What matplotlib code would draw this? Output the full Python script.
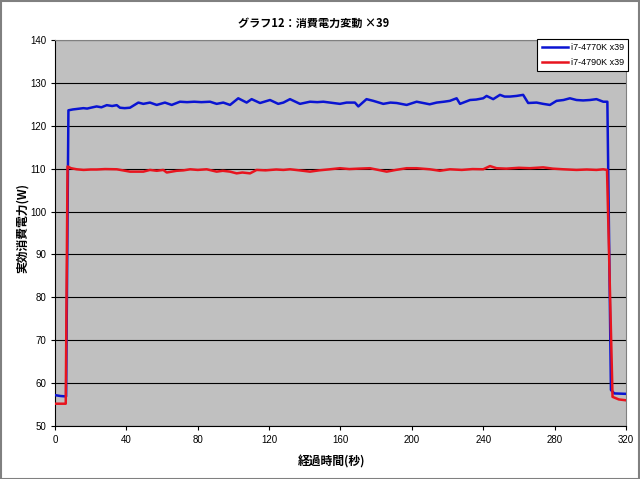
import matplotlib
matplotlib.use("Agg")
import matplotlib.pyplot as plt
from matplotlib.patches import Rectangle

# elapsed time (s) / power (W)
blue_t = [0, 3, 6.2, 7.5, 10, 12, 15.9, 18, 20, 23.3, 26, 29, 32, 34.6, 36.4, 39, 42,
          46.7, 49.5, 53.2, 57, 61.6, 65.4, 70, 74, 78, 82, 86.9, 90.6, 94.3, 98.1,
          102.7, 107.4, 110.2, 114.9, 120.5, 125.1, 128, 131.7, 137.3, 142.9, 147,
          150.4, 154.1, 159.7, 163.4, 168.1, 170, 174.6, 178.4, 184, 188, 191.5,
          197.1, 202.7, 206.4, 210, 213.9, 218, 221.3, 225.1, 227, 232.6, 236, 240,
          241.9, 245.6, 249.4, 252, 255, 258.7, 262.4, 265.2, 269.9, 273.6, 277.4,
          281.1, 285, 288.6, 292.3, 296, 299.8, 303.5, 307.3, 309.6, 311.6, 313.5, 320]
blue_w = [57.2, 57.0, 56.9, 123.6, 123.8, 123.9, 124.1, 124.0, 124.2, 124.5, 124.3, 124.8,
          124.6, 124.8, 124.2, 124.1, 124.2, 125.4, 125.1, 125.4, 124.85, 125.4, 124.85,
          125.6, 125.5, 125.6, 125.5, 125.6, 125.1, 125.4, 124.85, 126.4, 125.4, 126.2,
          125.3, 126.0, 125.1, 125.4, 126.2, 125.1, 125.6, 125.5, 125.6, 125.4, 125.1,
          125.4, 125.4, 124.5, 126.2, 125.8, 125.1, 125.4, 125.3, 124.85, 125.6, 125.3,
          125.0, 125.4, 125.6, 125.8, 126.4, 125.1, 126.0, 126.1, 126.4, 126.95, 126.2,
          127.2, 126.8, 126.8, 126.95, 127.2, 125.3, 125.4, 125.1, 124.85, 125.8, 126.0,
          126.4, 126.0, 125.9, 126.0, 126.2, 125.6, 125.6, 58.4, 57.6, 57.5]

red_t = [0, 6, 7, 9, 12.1, 16, 20, 23.4, 28, 34.6, 38, 42, 49.5, 53.2, 57, 60.7, 62.6,
         68.2, 72, 75.7, 80, 85, 90.6, 94, 98.1, 101.8, 105, 109.3, 113, 118, 124, 128,
         131.7, 137, 142.9, 148, 154.1, 159.7, 165, 170, 176.5, 185.9, 191, 197.1,
         202.7, 210.1, 215.7, 221.3, 228, 234, 240, 243.8, 247.5, 253, 260, 266.2,
         273.6, 279, 284.9, 292.3, 298, 303.5, 307.3, 309.4, 312.5, 316, 320]
red_w = [55.2, 55.2, 110.5, 110.1, 109.85, 109.7, 109.8, 109.8, 109.9, 109.85, 109.6,
         109.3, 109.3, 109.7, 109.5, 109.7, 109.1, 109.5, 109.6, 109.85, 109.7, 109.85,
         109.3, 109.5, 109.3, 108.9, 109.1, 108.9, 109.7, 109.6, 109.8, 109.7, 109.85,
         109.6, 109.3, 109.6, 109.85, 110.1, 109.9, 110.0, 110.1, 109.3, 109.7, 110.1,
         110.1, 109.85, 109.5, 109.85, 109.7, 109.9, 109.85, 110.6, 110.1, 110.0, 110.2,
         110.1, 110.3, 110.0, 109.85, 109.7, 109.8, 109.7, 109.85, 109.7, 56.8, 56.2, 56.0]

labels = ["i7-4770K x39", "i7-4790K x39"]

jp = ["Noto Sans CJK JP", "DejaVu Sans"]
plt.rcParams["font.family"] = ["Liberation Sans", "DejaVu Sans"]

fig = plt.figure(figsize=(6.4, 4.79), dpi=100)
fig.patches.append(Rectangle((0.001, 0.001), 0.997, 0.997, transform=fig.transFigure,
                             fill=False, edgecolor="#808080", linewidth=1.5))
ax = fig.add_axes([0.086, 0.1106, 0.892, 0.806])
ax.set_facecolor("#c0c0c0")

ax.plot(blue_t, blue_w, color="#0a14d2", linewidth=1.8, label=labels[0], zorder=3)
ax.plot(red_t, red_w, color="#e8141e", linewidth=1.8, label=labels[1], zorder=3)

ax.set_xlim(0, 320)
ax.set_ylim(50, 140)
ax.set_xticks(range(0, 321, 40))
ax.set_yticks(range(50, 141, 10))
ax.yaxis.grid(True, color="black", linewidth=0.8)
ax.set_axisbelow(True)
ax.tick_params(labelsize=7, length=3, width=0.8, colors="black")
for s in ("top", "right"):
    ax.spines[s].set_color("#808080")

fig.text(0.49, 1 - 23 / 479, "グラフ12：消費電力変動 ×39", family=jp, fontsize=8,
         fontweight="bold", ha="center", va="center")
ax.set_xlabel("経過時間(秒)", family=jp, fontsize=8.5, fontweight="bold")
ax.xaxis.set_label_coords((332 - 55) / 571, -(462 - 426) / 386)
ax.set_ylabel("実効消費電力(W)", family=jp, fontsize=8.5, fontweight="bold")
ax.yaxis.set_label_coords(-(55 - 22) / 571, (426 - 228) / 386)
ax.yaxis.label.set_va("center")
ax.xaxis.label.set_va("center")

leg = ax.legend(loc="upper right", bbox_to_anchor=(1.004, 1.003), fontsize=6.5,
                fancybox=False, framealpha=1, edgecolor="black", borderaxespad=0,
                handlelength=2.9, handletextpad=0.3, borderpad=0.5, labelspacing=0.6)
leg.get_frame().set_linewidth(0.8)
leg.set_zorder(5)

fig.savefig("out.png", dpi=100, facecolor="white")
